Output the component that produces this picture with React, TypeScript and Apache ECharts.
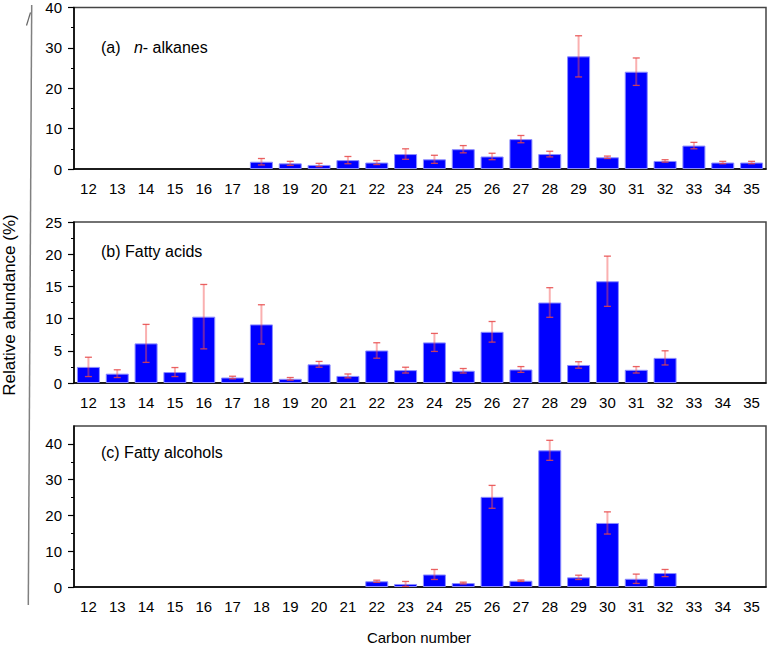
import React, { useEffect, useRef } from "react";
import * as echarts from "echarts";

const carbonNumbers = ["12","13","14","15","16","17","18","19","20","21","22","23","24","25","26","27","28","29","30","31","32","33","34","35"];

const alkaneMean = [0,0,0,0,0,0,1.8,1.4,1.0,2.2,1.6,3.7,2.4,4.9,3.1,7.4,3.7,27.9,2.9,24.1,2.0,5.8,1.6,1.6];
const alkaneErr  = [0,0,0,0,0,0,0.8,0.5,0.4,0.9,0.5,1.3,1.0,0.9,0.8,0.9,0.7,5.1,0.3,3.4,0.3,0.8,0.3,0.3];

const acidMean = [2.5,1.45,6.15,1.7,10.3,0.85,9.1,0.65,2.9,1.1,5.05,2.0,6.3,1.9,7.95,2.1,12.5,2.8,15.8,2.05,3.9,0,0,0];
const acidErr  = [1.5,0.6,2.95,0.7,5.0,0.2,3.05,0.2,0.45,0.3,1.2,0.45,1.4,0.35,1.6,0.45,2.3,0.5,3.9,0.5,1.1,0,0,0];

const alcoholMean = [0,0,0,0,0,0,0,0,0,0,1.6,0.85,3.5,1.1,25.2,1.75,38.2,2.7,17.9,2.3,3.9,0,0,0];
const alcoholErr  = [0,0,0,0,0,0,0,0,0,0,0.3,0.7,1.4,0.25,3.2,0.2,2.8,0.6,3.1,1.3,1.0,0,0,0];

const panelLabels = ["(a)   {i|n}- alkanes", "(b) Fatty acids", "(c) Fatty alcohols"];
const yMax = [40, 25, 45];
const yInterval = [10, 5, 10];
const cMajor = [0, 10, 20, 30, 40];
const cMinor = [5, 15, 25, 35];

const FONT = "'Liberation Sans', Arial, Helvetica, sans-serif";

export default function App() {
  const ref = useRef<HTMLDivElement>(null);
  useEffect(() => {
    if (!ref.current) return;
    const chart = echarts.init(ref.current, null, { renderer: "svg" });
    const gridTops = [7, 222, 426];
    const gridH = [162, 161, 161];
    const grids = gridTops.map((t, i) => ({
      left: 74, top: t, width: 692, height: gridH[i],
      show: true, borderColor: "#444", borderWidth: 1.5, backgroundColor: "transparent",
    }));
    const xAxes = [0, 1, 2].map((i) => ({
      type: "category", gridIndex: i, data: carbonNumbers,
      axisLine: { lineStyle: { color: "#000", width: 1.5 } },
      axisTick: { alignWithLabel: true, length: 6, lineStyle: { color: "#000", width: 1.2 } },
      axisLabel: { color: "#000", fontSize: 15, fontFamily: FONT, margin: 12, interval: 0 },
      splitLine: { show: false },
    }));
    const yBase = (i: number) => ({
      type: "value", gridIndex: i, min: 0, max: yMax[i],
      axisLine: { show: true, lineStyle: { color: "#000", width: 1.5 } },
      axisLabel: { color: "#000", fontSize: 15, fontFamily: FONT, margin: 12 },
      axisTick: { show: true, length: 6, lineStyle: { color: "#000", width: 1.2 } },
      splitLine: { show: false },
    });
    const yAxes: any[] = [
      { ...yBase(0), interval: yInterval[0], minorTick: { show: true, splitNumber: 2, length: 3, lineStyle: { color: "#000", width: 1 } } },
      { ...yBase(1), interval: yInterval[1], minorTick: { show: true, splitNumber: 2, length: 3, lineStyle: { color: "#000", width: 1 } } },
      {
        ...yBase(2),
        axisLabel: { color: "#000", fontSize: 15, fontFamily: FONT, margin: 12, customValues: cMajor },
        axisTick: { show: true, length: 6, customValues: cMajor, lineStyle: { color: "#000", width: 1.2 } },
      },
      {
        type: "value", gridIndex: 2, min: 0, max: yMax[2], position: "left", offset: 0,
        axisLine: { show: false }, axisLabel: { show: false }, splitLine: { show: false },
        axisTick: { show: true, length: 3, customValues: cMinor, lineStyle: { color: "#000", width: 1 } },
      },
    ];
    const means = [alkaneMean, acidMean, alcoholMean];
    const errs = [alkaneErr, acidErr, alcoholErr];
    const series: any[] = [];
    means.forEach((m, i) => {
      series.push({
        type: "bar", xAxisIndex: i, yAxisIndex: i, barWidth: 23,
        data: m.map((v) => (v === 0 ? null : v)),
        itemStyle: { color: "#0000ff", borderColor: "#8c8cff", borderWidth: 1 },
        z: 2,
      });
      series.push({
        type: "custom", xAxisIndex: i, yAxisIndex: i, z: 5,
        data: m.map((v, k) => [k, v, errs[i][k]]),
        encode: { x: 0, y: 1 },
        renderItem: (_p: any, api: any) => {
          const x = api.value(0), v = api.value(1), e = api.value(2);
          if (!e) return null;
          const top = api.coord([x, v + e]);
          const bot = api.coord([x, v - e]);
          const hw = 3.5;
          const capStyle = { stroke: "rgba(230,70,70,0.85)", lineWidth: 1.3 };
          return {
            type: "group",
            children: [
              { type: "line", shape: { x1: top[0], y1: top[1], x2: bot[0], y2: bot[1] }, style: { stroke: "rgba(245,80,80,0.45)", lineWidth: 2 } },
              { type: "line", shape: { x1: top[0] - hw, y1: top[1], x2: top[0] + hw, y2: top[1] }, style: capStyle },
              { type: "line", shape: { x1: bot[0] - hw, y1: bot[1], x2: bot[0] + hw, y2: bot[1] }, style: capStyle },
            ],
          };
        },
      });
    });
    const titleTops = [38, 242, 443];
    const titles = panelLabels.map((t, i) => ({
      text: t, left: 101, top: titleTops[i], padding: 0,
      textStyle: {
        fontSize: 16, fontWeight: "normal", color: "#000", fontFamily: FONT, lineHeight: 18,
        rich: { i: { fontStyle: "italic", fontSize: 16, color: "#000", fontFamily: FONT, lineHeight: 18 } },
      },
    }));
    chart.setOption({
      animation: false,
      backgroundColor: "#fff",
      title: titles,
      grid: grids,
      xAxis: xAxes,
      yAxis: yAxes,
      series,
      graphic: [
        { type: "line", shape: { x1: 31.7, y1: 5, x2: 28.3, y2: 605 }, style: { stroke: "#808080", lineWidth: 1.5 } },
        { type: "line", shape: { x1: 26.5, y1: 25.5, x2: 30.5, y2: 12.5 }, style: { stroke: "#666", lineWidth: 1.2 } },
        {
          type: "text", x: 9, y: 305, rotation: Math.PI / 2,
          style: { text: "Relative abundance (%)", fill: "#000", font: `17px ${FONT}`, align: "center", verticalAlign: "middle" },
        },
        {
          type: "text", x: 419, y: 637,
          style: { text: "Carbon number", fill: "#000", font: `15px ${FONT}`, align: "center", verticalAlign: "middle" },
        },
      ],
    });
    return () => chart.dispose();
  }, []);
  return <div ref={ref} style={{ position: "fixed", left: 0, top: 0, width: 768, height: 645, background: "#fff" }} />;
}
